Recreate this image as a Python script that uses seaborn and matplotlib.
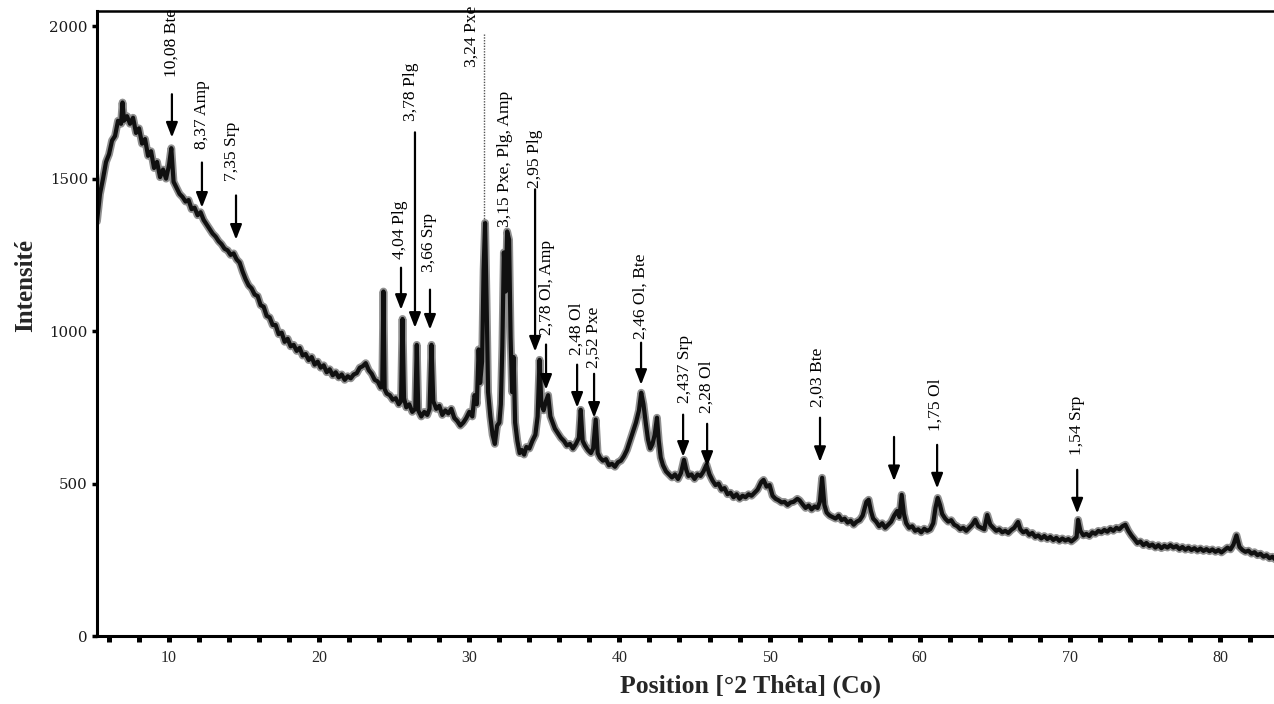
import numpy as np
import pandas as pd
import matplotlib
matplotlib.use("Agg")
import matplotlib.pyplot as plt
from matplotlib.ticker import MultipleLocator
import seaborn as sns

# ---------------- data ----------------
angles_a = [5.2, 5.4, 5.6, 5.8, 6.0, 6.2, 6.4, 6.6, 6.8, 6.9, 7.0,
            7.2, 7.4, 7.6, 7.8, 8.0, 8.2, 8.4, 8.6, 8.8, 9.0, 9.2, 9.4, 9.6, 9.8, 10.0,
            10.15, 10.3,
            10.5, 10.7, 10.9, 11.1, 11.3, 11.5, 11.7, 11.9, 12.1, 12.3, 12.5, 12.7, 12.9,
            13.1, 13.3, 13.5, 13.7, 13.9, 14.1, 14.3, 14.5, 14.7, 14.9]
inten_a = [1360, 1450, 1500, 1555, 1580, 1625, 1640, 1690, 1680, 1750, 1690,
           1705, 1680, 1700, 1650, 1665, 1615, 1630, 1575, 1590, 1535, 1555, 1505, 1530, 1500, 1545,
           1600, 1490,
           1470, 1450, 1440, 1425, 1430, 1400, 1405, 1380, 1390, 1365, 1350, 1335, 1320,
           1310, 1295, 1285, 1270, 1265, 1250, 1255, 1235, 1225, 1195]

angles_b = [15.1, 15.3, 15.5, 15.7, 15.9, 16.1, 16.3, 16.5, 16.7, 16.9,
            17.1, 17.3, 17.5, 17.7, 17.9, 18.1, 18.3, 18.5, 18.7, 18.9,
            19.1, 19.3, 19.5, 19.7, 19.9, 20.1, 20.3, 20.5, 20.7, 20.9,
            21.1, 21.3, 21.5, 21.7, 21.9, 22.1, 22.3, 22.5, 22.7, 22.9,
            23.1, 23.3, 23.5, 23.7, 23.9, 24.1, 24.2, 24.28, 24.36]
inten_b = [1170, 1150, 1140, 1120, 1115, 1085, 1080, 1050, 1045, 1020,
           1020, 990, 995, 965, 975, 950, 955, 935, 945, 920,
           925, 905, 915, 890, 900, 880, 888, 865, 875, 855,
           865, 848, 858, 840, 852, 845, 858, 862, 880, 885,
           895, 872, 860, 840, 835, 815, 825, 1130, 810]

angles_c = [24.5, 24.7, 24.9, 25.1, 25.3, 25.45, 25.55, 25.65, 25.8, 26.0,
            26.2, 26.4, 26.5, 26.6, 26.8, 27.0, 27.2, 27.35, 27.48, 27.6,
            27.8, 28.0, 28.2, 28.4, 28.6, 28.8, 29.0, 29.2, 29.4, 29.6,
            29.8, 30.0, 30.2, 30.35, 30.5, 30.62, 30.72, 30.85, 30.95, 31.05,
            31.15, 31.25, 31.4, 31.55, 31.7, 31.85, 32.0, 32.1, 32.2, 32.3,
            32.42, 32.52, 32.65, 32.75, 32.85, 32.95, 33.05]
inten_c = [795, 790, 775, 780, 760, 770, 1040, 780, 750, 760,
           735, 745, 955, 740, 720, 735, 725, 745, 955, 770,
           745, 755, 725, 740, 730, 745, 715, 705, 690, 700,
           715, 735, 720, 790, 760, 940, 830, 900, 1200, 1355,
           1100, 800, 720, 660, 630, 690, 700, 760, 950, 1258,
           1130, 1327, 1300, 980, 800, 915, 700]

angles_d = [33.2, 33.35, 33.5, 33.65, 33.8, 34.0, 34.2, 34.4, 34.55, 34.68,
            34.8, 34.95, 35.1, 35.25, 35.4, 35.55, 35.7, 35.9, 36.1, 36.3,
            36.5, 36.7, 36.9, 37.1, 37.3, 37.42, 37.55, 37.7, 37.9, 38.1,
            38.25, 38.42, 38.55, 38.7, 38.9, 39.1, 39.3, 39.5, 39.7, 39.9,
            40.1, 40.3, 40.5, 40.7, 40.9, 41.1, 41.3, 41.45, 41.6, 41.75,
            41.9, 42.05, 42.2, 42.35, 42.5, 42.62, 42.75, 42.9, 43.1, 43.3,
            43.5, 43.7, 43.9, 44.1, 44.3, 44.45, 44.6, 44.8, 45.0, 45.2,
            45.4, 45.6, 45.8, 46.0]
inten_d = [640, 600, 610, 595, 620, 615, 640, 660, 720, 906,
           760, 740, 770, 790, 720, 700, 680, 665, 650, 640,
           625, 630, 615, 630, 650, 742, 640, 625, 610, 600,
           615, 710, 600, 585, 575, 580, 560, 565, 555, 570,
           575, 590, 610, 640, 670, 700, 740, 798, 760, 700,
           645, 615, 630, 660, 716, 640, 585, 560, 540, 530,
           520, 530, 515, 535, 578, 545, 525, 530, 515, 530,
           525, 540, 562, 530]

angles_e = [46.2, 46.4, 46.6, 46.8, 47.0, 47.2, 47.4, 47.6, 47.8, 48.0,
            48.2, 48.4, 48.6, 48.8, 49.0, 49.2, 49.45, 49.6, 49.8, 50.0,
            50.2, 50.4, 50.6, 50.8, 51.0, 51.2, 51.4, 51.6, 51.85, 52.0,
            52.2, 52.4, 52.6, 52.8, 53.0, 53.2, 53.35, 53.5, 53.65, 53.8,
            54.0, 54.2, 54.4, 54.6, 54.8, 55.0, 55.2, 55.4, 55.6, 55.8,
            56.0, 56.2, 56.45, 56.6, 56.75, 56.9, 57.1, 57.3, 57.5, 57.7,
            57.9, 58.1, 58.3, 58.5, 58.65, 58.8, 58.95, 59.1, 59.3, 59.5,
            59.7, 59.9, 60.1, 60.3, 60.5, 60.7, 60.9, 61.05, 61.2, 61.35,
            61.5, 61.7, 61.9]
inten_e = [510, 495, 500, 480, 485, 465, 470, 455, 465, 450,
           460, 455, 465, 460, 470, 480, 505, 512, 490, 495,
           460, 450, 445, 438, 440, 430, 438, 440, 450, 445,
           432, 420, 428, 415, 425, 420, 440, 519, 430, 405,
           395, 390, 385, 395, 380, 385, 372, 378, 365, 375,
           380, 395, 440, 447, 410, 385, 375, 360, 370, 355,
           365, 375, 395, 410, 390, 463, 400, 370, 355, 360,
           345, 350, 340, 352, 345, 350, 370, 420, 453, 430,
           400, 385, 375]

angles_f = [62.1, 62.3, 62.5, 62.7, 62.9, 63.1, 63.3, 63.5, 63.7, 63.9,
            64.1, 64.3, 64.5, 64.7, 64.9, 65.1, 65.3, 65.5, 65.7, 65.9,
            66.1, 66.3, 66.55, 66.7, 66.9, 67.1, 67.3, 67.5, 67.7, 67.9,
            68.1, 68.3, 68.5, 68.7, 68.9, 69.1, 69.3, 69.5, 69.7, 69.9,
            70.1, 70.3, 70.45, 70.55, 70.7, 70.9, 71.1, 71.3, 71.5, 71.7,
            71.9, 72.1, 72.3, 72.5, 72.7, 72.9, 73.1, 73.3, 73.5, 73.7,
            73.9, 74.1, 74.3, 74.5, 74.7, 74.9, 75.1, 75.3, 75.5, 75.7,
            75.9, 76.1, 76.3, 76.5, 76.7, 76.9, 77.1, 77.3, 77.5, 77.7,
            77.9, 78.1, 78.3, 78.5, 78.7, 78.9, 79.1, 79.3, 79.5, 79.7,
            79.9, 80.1, 80.3, 80.5, 80.7, 80.9, 81.1, 81.3, 81.5, 81.7,
            81.9, 82.1, 82.3, 82.5, 82.7, 82.9, 83.1, 83.3, 83.5, 83.7]
inten_f = [380, 365, 360, 350, 355, 345, 355, 365, 381, 360,
           355, 350, 397, 365, 355, 345, 350, 340, 345, 338,
           348, 355, 374, 350, 340, 345, 332, 338, 325, 330,
           320, 328, 318, 325, 315, 322, 312, 320, 313, 318,
           310, 318, 325, 381, 345, 330, 335, 328, 340, 335,
           345, 340, 348, 342, 352, 345, 355, 350, 360, 365,
           345, 330, 318, 305, 310, 298, 305, 295, 300, 290,
           298, 288, 296, 290, 298, 290, 295, 285, 292, 283,
           290, 282, 288, 280, 287, 279, 285, 278, 284, 276,
           282, 274, 282, 290, 284, 300, 330, 292, 282, 276,
           280, 270, 275, 265, 270, 260, 265, 255, 260, 250]

# peak labels (text position in data coords)
label_texts = ["10,08 Bte", "8,37 Amp", "7,35 Srp", "4,04 Plg", "3,78 Plg", "3,66 Srp",
               "3,24 Pxe", "3,15 Pxe, Plg, Amp", "2,95 Plg", "2,78 Ol, Amp", "2,48 Ol",
               "2,52 Pxe", "2,46 Ol, Bte", "2,437 Srp", "2,28 Ol", "2,03 Bte", "1,75 Ol",
               "1,54 Srp"]
label_x = [10.19, 12.19, 14.19, 25.40, 26.12, 27.30, 30.18, 32.38, 34.38, 35.18, 37.18,
           38.31, 41.40, 44.37, 45.84, 53.23, 61.03, 70.49]
label_y = [1833, 1596, 1491, 1235, 1688, 1195, 1865, 1343, 1471, 988, 923,
           880, 975, 765, 732, 752, 673, 594]

# arrows (angle, start intensity, tip intensity)
arrow_x = [10.19, 12.19, 14.46, 25.45, 26.38, 27.38, 34.38, 35.11, 37.18, 38.31,
           41.44, 44.24, 45.84, 53.36, 58.29, 61.16, 70.49]
arrow_top = [1777, 1553, 1445, 1208, 1652, 1136, 1465, 956, 890, 860,
             962, 726, 696, 716, 653, 627, 545]
arrow_tip = [1635, 1405, 1300, 1070, 1011, 1005, 933, 808, 749, 716,
             824, 588, 555, 571, 508, 484, 402]

# dotted leader for 3,24 Pxe
leader_x = [30.98, 30.98]
leader_y = [1974, 1362]

x_ticks_major = [10, 20, 30, 40, 50, 60, 70, 80]
y_ticks = [0, 500, 1000, 1500, 2000]

# ---------------- build table ----------------
angles = angles_a + angles_b + angles_c + angles_d + angles_e + angles_f
inten = inten_a + inten_b + inten_c + inten_d + inten_e + inten_f
assert len(angles) == len(inten)
df = pd.DataFrame({"angle": angles, "intensity": inten})

# ---------------- style ----------------
sns.set_style("ticks")
plt.rcParams["font.family"] = ["Liberation Serif", "DejaVu Serif"]

fig = plt.figure(figsize=(12.74, 7.04), dpi=100)
ax = fig.add_axes([97 / 1274, 1 - 636 / 704, (1274 - 97) / 1274, (636 - 11) / 704])

sns.lineplot(data=df, x="angle", y="intensity", ax=ax, color="#909090",
             linewidth=5.6, estimator=None, sort=False)
sns.lineplot(data=df, x="angle", y="intensity", ax=ax, color="#101010",
             linewidth=3.0, estimator=None, sort=False)

ax.set_xlim(5.2, 83.6)
ax.set_ylim(0, 2050)

# spines
for side in ["left", "bottom"]:
    ax.spines[side].set_linewidth(2.2)
    ax.spines[side].set_color("black")
ax.spines["top"].set_linewidth(1.8)
ax.spines["top"].set_color("black")
ax.spines["right"].set_visible(False)

ax.xaxis.set_major_locator(MultipleLocator(10))
ax.xaxis.set_minor_locator(MultipleLocator(2))
ax.set_yticks(y_ticks)
ax.tick_params(axis="x", which="both", direction="out", length=4.2, width=3.6,
               color="black", pad=6, labelsize=11.5)
ax.tick_params(axis="y", which="major", direction="out", length=3.5, width=2.5,
               color="black", pad=3)
ax.set_xticks(x_ticks_major)
ax.set_xticklabels([str(v) for v in x_ticks_major])
ax.set_yticklabels([str(v) for v in y_ticks], fontsize=10.8,
                   family=["DejaVu Serif"], color="#1a1a1a")

ax.set_xlabel("Position [°2 Thêta] (Co)", fontsize=18.5, fontweight="bold")
ax.set_ylabel("Intensité", fontsize=18, fontweight="bold")
ax.xaxis.set_label_coords(0.555, -0.062)
ax.yaxis.set_label_coords(-0.051, 0.56)

# annotations
for t, x, y in zip(label_texts, label_x, label_y):
    ax.text(x, y, t, rotation=90, ha="center", va="bottom", fontsize=12.6,
            color="black")

for x, y0, y1 in zip(arrow_x, arrow_top, arrow_tip):
    ax.annotate("", xy=(x, y1), xytext=(x, y0),
                arrowprops=dict(arrowstyle="-|>,head_length=0.9,head_width=0.35",
                                color="black", lw=1.6, shrinkA=0, shrinkB=0,
                                mutation_scale=10))

ax.plot(leader_x, leader_y, linestyle=(0, (1, 1)), color="#555555", linewidth=1.0)

fig.savefig("out.png", dpi=100)
